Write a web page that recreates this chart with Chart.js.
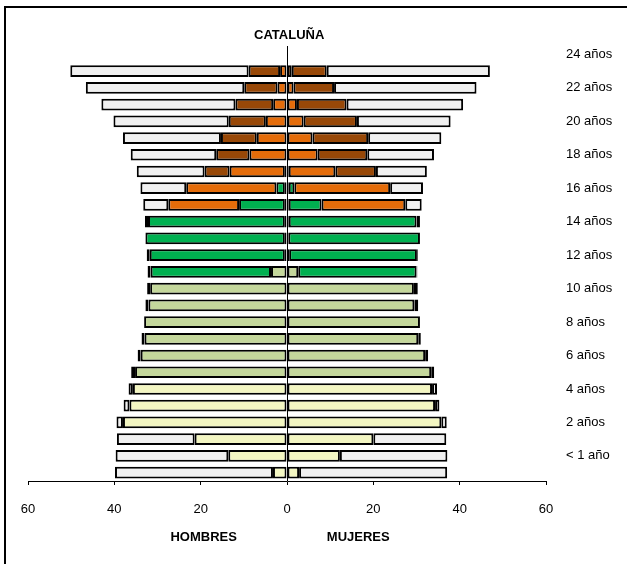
<!DOCTYPE html>
<html>
<head>
<meta charset="utf-8">
<script src="https://cdn.jsdelivr.net/npm/chart.js@4/dist/chart.umd.min.js"></script>
<style>
  body { margin: 0; background: #fff; }
  #wrap { position: relative; width: 627px; height: 564px; overflow: hidden; }
  #frame { position: absolute; left: 4px; top: 6px; width: 700px; height: 600px;
           border-top: 2px solid #000; border-left: 2px solid #000; pointer-events: none; }
</style>
</head>
<body>
<div id="wrap">
  <canvas id="myPyramid"></canvas>
  <div id="frame"></div>
</div>
<script>
// Age labels, top to bottom (the top slot holds no bar, as in the original)
var ageLabels = ["24 años", "", "22 años", "", "20 años", "", "18 años", "", "16 años", "",
  "14 años", "", "12 años", "", "10 años", "", "8 años", "", "6 años", "",
  "4 años", "", "2 años", "", "< 1 año", ""];

var xTicks = [-60, -40, -20, 0, 20, 40, 60];

// Rows top to bottom (25 bars). Hombres (left side, magnitudes)
var hombresInfantil = [0,0,0,0,0,0,0,0,0,0,0,0,0,0,0,0,0,0,0,35.7,36.5,38.0,21.4,13.6,3.25];
var hombresPrimaria = [0,0,0,0,0,0,0,0.5,0.5,0.5,0.5,0.5,3.7,31.7,32.1,33.1,33.0,33.9,35.2,0,0,0,0,0,0];
var hombresESO      = [0,0,0,0,0,0,0.5,1.95,10.6,31.7,32.3,31.3,27.9,0,0,0,0,0,0,0,0,0,0,0,0];
var hombresBach     = [1.6,2.2,3.2,4.9,7.0,8.7,12.8,20.9,16.4,0,0,0,0,0,0,0,0,0,0,0,0,0,0,0,0];
var hombresUniv     = [7.3,7.7,8.75,8.6,8.3,7.7,5.8,0,0,0,0,0,0,0,0,0,0,0,0,0,0,0,0,0,0];
var hombresResto    = [41.3,36.7,31.05,26.7,22.7,19.8,15.7,10.6,5.8,0.7,0,0.7,0.7,0.7,0.7,0,0.7,0.7,0.9,1.0,1.35,1.5,18.0,26.1,36.6];

// Mujeres (right side)
var mujeresInfantil = [0,0,0,0,0,0,0,0,0,0,0,0,0,0,0,0,0,0,0,33.6,34.3,35.75,20.0,12.25,2.8];
var mujeresPrimaria = [0,0,0,0,0,0,0,0.4,0.4,0.4,0.3,0.5,2.6,29.4,29.5,30.8,30.4,32.0,33.4,0,0,0,0,0,0];
var mujeresESO      = [0,0,0,0,0,0,0.4,1.3,7.6,29.6,30.5,29.6,27.4,0,0,0,0,0,0,0,0,0,0,0,0];
var mujeresBach     = [1.1,1.5,2.3,3.85,5.9,7.1,10.8,22.2,19.4,0,0,0,0,0,0,0,0,0,0,0,0,0,0,0,0];
var mujeresUniv     = [8.1,9.4,11.5,12.35,12.9,11.5,9.4,0,0,0,0,0,0,0,0,0,0,0,0,0,0,0,0,0,0];
var mujeresResto    = [37.8,33.0,27.0,21.7,16.95,15.45,11.8,7.6,3.8,0.8,0,0.2,0.2,0.9,0.9,0,0.6,0.7,0.7,1.15,1.0,1.25,16.9,24.9,34.3];

var colores = ["#F3F6C2", "#C4D79B", "#00B050", "#E46C0A", "#984807", "#F0F0F0"];

// empty top slot + rows; zeros become gaps, men go negative
function serie(arr, signo) {
  return [null].concat(arr.map(function (v) { return v ? v * signo : null; }));
}

var hombres = [hombresInfantil, hombresPrimaria, hombresESO, hombresBach, hombresUniv, hombresResto];
var mujeres = [mujeresInfantil, mujeresPrimaria, mujeresESO, mujeresBach, mujeresUniv, mujeresResto];

var datasets = [];
hombres.forEach(function (arr, i) {
  datasets.push({ label: "H" + i, data: serie(arr, -1), backgroundColor: colores[i] });
});
mujeres.forEach(function (arr, i) {
  datasets.push({ label: "M" + i, data: serie(arr, 1), backgroundColor: colores[i] });
});
datasets.forEach(function (d) {
  d.borderColor = "#000";
  d.borderWidth = 2;
  d.borderSkipped = false;
  d.barPercentage = 0.7;
  d.categoryPercentage = 1;
  d.stack = "s";
});

var FONT = "'Liberation Sans', Arial, sans-serif";
Chart.defaults.color = "#000";
Chart.defaults.font.family = FONT;
Chart.defaults.font.size = 13;

// Title and the two side captions
var textos = {
  id: "textos",
  afterDraw: function (chart) {
    var c = chart.ctx, x = chart.scales.x;
    c.save();
    c.fillStyle = "#000";
    c.font = "bold 13px " + FONT;
    c.textAlign = "center";
    c.textBaseline = "middle";
    c.fillText("CATALUÑA", x.getPixelForValue(0.5), 35);
    c.fillText("HOMBRES", x.getPixelForValue(-19.3), 537);
    c.fillText("MUJERES", x.getPixelForValue(16.5), 537);
    c.restore();
  }
};

var ctx = document.getElementById("myPyramid").getContext("2d");
var myPyramid = new Chart(ctx, {
  type: "bar",
  data: { labels: ageLabels, datasets: datasets },
  plugins: [textos],
  options: {
    indexAxis: "y",
    responsive: true,
    maintainAspectRatio: false,
    animation: false,
    layout: { padding: { left: 28, top: 46, right: 0, bottom: 0 } },
    scales: {
      x: {
        stacked: true,
        min: -60,
        max: 60,
        afterBuildTicks: function (axis) {
          axis.ticks = xTicks.map(function (v) { return { value: v }; });
        },
        afterFit: function (axis) { axis.height = 83; },
        ticks: {
          padding: 17,
          callback: function (v) { return Math.abs(v); },
        },
        grid: {
          color: function (c) {
            return c.tick && c.tick.value === 0 ? "#000" : "rgba(0,0,0,0)";
          },
          tickColor: "#000",
          tickLength: 4,
          lineWidth: 1,
        },
        border: { color: "#000", width: 1 },
      },
      y: {
        stacked: true,
        position: "right",
        afterFit: function (axis) { axis.width = 81; },
        ticks: { autoSkip: false, padding: 20 },
        grid: { display: false, drawTicks: false },
        border: { display: false },
      },
    },
    plugins: {
      legend: { display: false },
      tooltip: { enabled: false },
    },
  },
});
</script>
</body>
</html>
